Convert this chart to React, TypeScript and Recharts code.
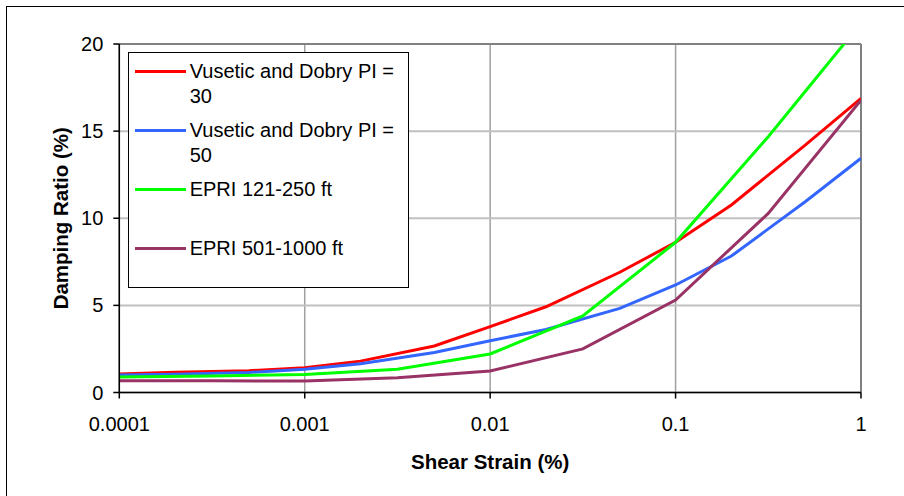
import React from 'react';
import { LineChart, Line, XAxis, YAxis, CartesianGrid, ReferenceLine, Legend, Label } from 'recharts';

const vdStrain = [0.0001, 0.0002, 0.0005, 0.001, 0.002, 0.005, 0.01, 0.02, 0.05, 0.1, 0.2, 0.5, 1];
const vdPI30 = [1.06, 1.16, 1.25, 1.42, 1.8, 2.67, 3.78, 4.92, 6.9, 8.62, 10.76, 14.2, 16.88];
const vdPI50 = [1.0, 1.05, 1.15, 1.33, 1.65, 2.3, 2.97, 3.62, 4.83, 6.17, 7.83, 10.95, 13.44];
const epriStrain = [0.0001, 0.000316, 0.001, 0.00316, 0.01, 0.0316, 0.1, 0.316, 1];
const epri121 = [0.89, 0.95, 1.04, 1.33, 2.21, 4.39, 8.62, 14.68, 21.2];
const epri501 = [0.68, 0.67, 0.66, 0.85, 1.23, 2.5, 5.31, 10.28, 16.78];
const xTicks = [0.0001, 0.001, 0.01, 0.1, 1];
const yTicks = [0, 5, 10, 15, 20];
const seriesNames = ['Vusetic and Dobry PI = 30', 'Vusetic and Dobry PI = 50', 'EPRI 121-250 ft', 'EPRI 501-1000 ft'];
const seriesColors = ['#ff0000', '#3366ff', '#00ff00', '#993366'];

const toPoints = (xs: number[], ys: number[]) => xs.map((x, i) => ({ x, y: ys[i] }));

const series = [
  { name: seriesNames[0], color: seriesColors[0], data: toPoints(vdStrain, vdPI30) },
  { name: seriesNames[1], color: seriesColors[1], data: toPoints(vdStrain, vdPI50) },
  { name: seriesNames[2], color: seriesColors[2], data: toPoints(epriStrain, epri121) },
  { name: seriesNames[3], color: seriesColors[3], data: toPoints(epriStrain, epri501) },
];

const FONT = '"Liberation Sans", Arial, sans-serif';

const LegendBox = () => (
  <div
    style={{
      width: 281,
      height: 236,
      boxSizing: 'border-box',
      border: '1.5px solid #000',
      background: '#fff',
      padding: '6px 0 0 6px',
      fontFamily: FONT,
      fontSize: 20,
      lineHeight: '25.6px',
      color: '#000',
      textAlign: 'left',
    }}
  >
    {series.map((s) => (
      <div key={s.name} style={{ display: 'flex', alignItems: 'flex-start', height: 59 }}>
        <div style={{ width: 51, height: 3, background: s.color, marginTop: 11.5, flex: 'none' }} />
        <div style={{ marginLeft: 4, width: 218 }}>{s.name}</div>
      </div>
    ))}
  </div>
);

export default function App() {
  return (
    <div style={{ position: 'relative', width: 888, height: 480 }}>
      <div
        style={{
          position: 'fixed',
          left: 6,
          top: 6,
          width: 1200,
          height: 1200,
          borderLeft: '1.5px solid #000',
          borderTop: '1.5px solid #000',
          boxSizing: 'border-box',
          pointerEvents: 'none',
          zIndex: 5,
        }}
      />
      <LineChart
        width={888}
        height={480}
        margin={{ top: 36, right: 35, left: 51.3, bottom: 55.5 }}
      >
        <CartesianGrid horizontal={false} stroke="#a0a0a0" strokeWidth={1.5} />
        <CartesianGrid vertical={false} stroke="#c0c0c0" strokeWidth={2} />
        <XAxis
          dataKey="x"
          type="number"
          scale="log"
          domain={[0.0001, 1]}
          ticks={xTicks}
          allowDataOverflow
          height={40}
          tickFormatter={(v: number) => String(v)}
          tick={{ fill: '#000', fontSize: 20, fontFamily: FONT }}
          tickSize={6}
          tickMargin={18}
          stroke="#000"
          strokeWidth={1.5}
        >
          <Label
            content={(props: any) => {
              const vb = props.viewBox || {};
              return (
                <text
                  x={vb.x + vb.width / 2}
                  y={vb.y + 76.5}
                  textAnchor="middle"
                  fontFamily={FONT}
                  fontSize={20.5}
                  fontWeight="bold"
                  fill="#000"
                >
                  Shear Strain (%)
                </text>
              );
            }}
          />
        </XAxis>
        <YAxis
          type="number"
          domain={[0, 20]}
          ticks={yTicks}
          allowDataOverflow
          width={60}
          tick={{ fill: '#000', fontSize: 20, fontFamily: FONT }}
          tickSize={6}
          tickMargin={10}
          stroke="#000"
          strokeWidth={1.5}
        >
          <Label
            content={(props: any) => {
              const vb = props.viewBox || {};
              const cx = 52.3;
              const cy = vb.y + vb.height / 2;
              return (
                <text
                  x={cx}
                  y={cy}
                  transform={`rotate(-90 ${cx} ${cy})`}
                  textAnchor="middle"
                  dominantBaseline="central"
                  fontFamily={FONT}
                  fontSize={20.5}
                  fontWeight="bold"
                  fill="#000"
                >
                  Damping Ratio (%)
                </text>
              );
            }}
          />
        </YAxis>
        <ReferenceLine y={20} stroke="#808080" strokeWidth={2} />
        <ReferenceLine x={1} stroke="#808080" strokeWidth={2} />
        {series.map((s) => (
          <Line
            key={s.name}
            data={s.data}
            dataKey="y"
            name={s.name}
            type="linear"
            stroke={s.color}
            strokeWidth={3}
            dot={false}
            activeDot={false}
            isAnimationActive={false}
          />
        ))}
        <Legend
          layout="vertical"
          align="center"
          verticalAlign="middle"
          content={() => <LegendBox />}
          wrapperStyle={{ left: 119.7, top: 43.7, width: 281, height: 236 }}
        />
      </LineChart>
    </div>
  );
}
